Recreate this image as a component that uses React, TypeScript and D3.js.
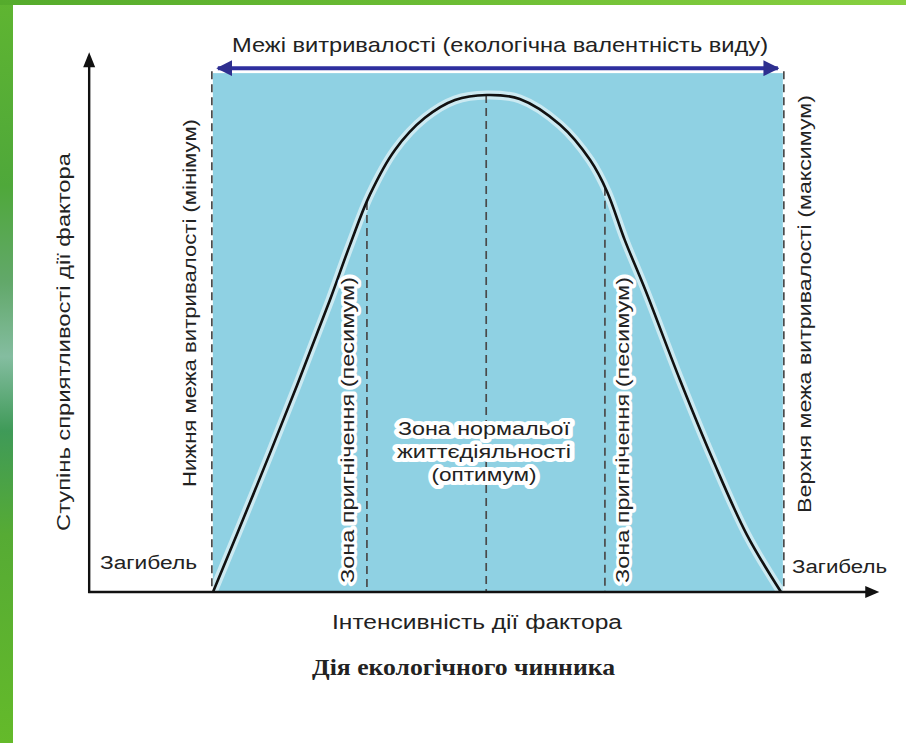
import React from 'react';
import * as d3 from 'd3';

// Response curve: factor intensity (0..100 between tolerance limits) vs. favourability (0..100)
const curveIntensity = [0, 7.4, 14.8, 20.6, 24.1, 27.6, 32.0, 37.3, 42.6, 48.2, 54.0, 61.1, 66.4, 69.4, 72.5, 76.1, 82.2, 88.0, 94.0, 100];
const curveFavour = [0, 20.5, 41.6, 58.8, 69.8, 79.9, 88.9, 95.4, 99.0, 100, 99.2, 94.0, 86.9, 80.5, 70.8, 60.8, 42.7, 26.6, 11.5, 0];

// Zone boundaries (dashed lines)
const toleranceLimits = [-0.2, 100.5];
const zoneBounds = [27.1, 48.1, 69.0];

// Axis extents in data units
const xAxisExtent = [-21.8, 117.3];
const yAxisTop = 108;
const bandTop = 104.4;
const arrowLevel = 105.4;

const titleText = 'Межі витривалості (екологічна валентність виду)';
const yAxisLabel = 'Ступінь сприятливості дії фактора';
const xAxisLabel = 'Інтенсивність дії фактора';
const caption = 'Дія екологічного чинника';
const deathLabel = 'Загибель';
const lowerLimitLabel = 'Нижня межа витривалості (мінімум)';
const upperLimitLabel = 'Верхня межа витривалості (максимум)';
const pessimumLabel = 'Зона пригнічення (песимум)';
const optimumLines = ['Зона нормальої', 'життєдіяльності', '(оптимум)'];

const W = 906;
const H = 743;
const FONT = '"Liberation Sans Narrow", "Arial Narrow", "Liberation Sans", Arial, sans-serif';

export default function App() {
  const x = d3.scaleLinear().domain([0, 100]).range([213, 781]);
  const y = d3.scaleLinear().domain([0, 100]).range([592, 95]);

  const pts: [number, number][] = curveIntensity.map((v, i) => [v, curveFavour[i]]);
  const line = d3
    .line<[number, number]>()
    .x((d) => x(d[0]))
    .y((d) => y(d[1]))
    .curve(d3.curveCatmullRom.alpha(0.5));
  const path = line(pts) || '';

  const interp = (v: number) => {
    const i = d3.bisectLeft(curveIntensity, v);
    if (i <= 0) return curveFavour[0];
    if (i >= curveIntensity.length) return curveFavour[curveFavour.length - 1];
    const a = curveIntensity[i - 1], b = curveIntensity[i];
    const t = (v - a) / (b - a);
    return curveFavour[i - 1] + t * (curveFavour[i] - curveFavour[i - 1]);
  };

  const x0 = x(xAxisExtent[0]);
  const xEnd = x(xAxisExtent[1]);
  const y0 = y(0);
  const yTop = y(yAxisTop);
  const bandL = x(toleranceLimits[0]) + 1;
  const bandR = x(toleranceLimits[1]) - 1;
  const arrowY = y(arrowLevel);

  const vText = (label: string, cx: number, cy: number, len: number, size = 18) => (
    <text
      transform={`translate(${cx},${cy}) rotate(-90)`}
      textAnchor="middle"
      dominantBaseline="central"
      fontFamily={FONT}
      fontSize={size}
      fill="#222"
      textLength={len}
      lengthAdjust="spacingAndGlyphs"
    >
      {label}
    </text>
  );

  return (
    <svg width={W} height={H} style={{ position: 'fixed', left: 0, top: 0 }} xmlns="http://www.w3.org/2000/svg">
      <defs>
        <linearGradient id="leftGreen" x1="0" y1="0" x2="0" y2="1">
          <stop offset="0" stopColor="#5fb531" />
          <stop offset="0.25" stopColor="#4fa83a" />
          <stop offset="0.38" stopColor="#62a86a" />
          <stop offset="0.48" stopColor="#84bda0" />
          <stop offset="0.58" stopColor="#3f9a58" />
          <stop offset="0.72" stopColor="#56ab34" />
          <stop offset="1" stopColor="#64ba2a" />
        </linearGradient>
        <linearGradient id="topGreen" x1="0" y1="0" x2="1" y2="0">
          <stop offset="0" stopColor="#55ab2c" />
          <stop offset="0.5" stopColor="#6cbd34" />
          <stop offset="1" stopColor="#88d040" />
        </linearGradient>
        <marker id="blueHead" viewBox="0 0 10 10" refX="9" refY="5" markerWidth="4" markerHeight="4" orient="auto-start-reverse">
          <path d="M0,0 L10,5 L0,10 z" fill="#2e2f8f" />
        </marker>
      </defs>
      <rect x={0} y={0} width={W} height={H} fill="#ffffff" />
      <rect x={0} y={0} width={13} height={H} fill="url(#leftGreen)" />
      <rect x={0} y={0} width={W} height={5} fill="url(#topGreen)" />

      {/* blue tolerance band */}
      <rect x={bandL} y={y(bandTop)} width={bandR - bandL} height={y0 - y(bandTop)} fill="#8fd1e3" />

      {/* halo along the curve */}
      <path d={path} fill="none" stroke="#ffffff" strokeOpacity={0.55} strokeWidth={9} />

      {/* tolerance limit dashed lines */}
      {toleranceLimits.map((v, i) => (
        <line key={'lim' + i} x1={x(v)} x2={x(v)} y1={y(bandTop) - 2} y2={y0} stroke="#4a4a4a" strokeWidth={1.7} strokeDasharray="8,5" />
      ))}
      {/* zone dashed lines */}
      {zoneBounds.map((v, i) => (
        <line key={'zb' + i} x1={x(v)} x2={x(v)} y1={y(interp(v))} y2={y0} stroke="#4a4a4a" strokeWidth={1.7} strokeDasharray="8,5" />
      ))}

      {/* response curve */}
      <path d={path} fill="none" stroke="#111" strokeWidth={2.6} />

      {/* tolerance arrow */}
      <line x1={x(toleranceLimits[0]) + 6} x2={x(toleranceLimits[1]) - 6} y1={arrowY} y2={arrowY} stroke="#2e2f9f" strokeWidth={4} markerStart="url(#blueHead)" markerEnd="url(#blueHead)" />

      {/* axes */}
      <line x1={x0} x2={x0} y1={y0 + 1} y2={yTop + 8} stroke="#111" strokeWidth={2.4} />
      <path d={`M${x0 - 6},${yTop + 12} L${x0},${yTop - 3} L${x0 + 6},${yTop + 12} z`} fill="#111" />
      <line x1={x0 - 1} x2={xEnd - 8} y1={y0} y2={y0} stroke="#111" strokeWidth={2.4} />
      <path d={`M${xEnd - 14},${y0 - 6} L${xEnd},${y0} L${xEnd - 14},${y0 + 6} z`} fill="#111" />

      {/* title */}
      <text x={500} y={44} textAnchor="middle" dominantBaseline="central" fontFamily={FONT} fontSize={21} fill="#222" textLength={536} lengthAdjust="spacingAndGlyphs">
        {titleText}
      </text>

      {vText(yAxisLabel, 64, 342, 378)}
      {vText(lowerLimitLabel, 190, 303, 368)}
      {vText(upperLimitLabel, 805, 304, 418)}
      <g stroke="#fff" strokeWidth={6} strokeLinejoin="round" style={{ paintOrder: 'stroke' }}>
        {vText(pessimumLabel, 348, 430, 306)}
        {vText(pessimumLabel, 623, 430, 306)}
      </g>

      {/* optimum label */}
      <g style={{ paintOrder: 'stroke' }} stroke="#fff" strokeWidth={8} strokeLinejoin="round">
        {optimumLines.map((t, i) => (
          <text key={t} x={484} y={428 + i * 23} textAnchor="middle" dominantBaseline="central" fontFamily={FONT} fontSize={19} fill="#222" textLength={[172, 174, 105][i]} lengthAdjust="spacingAndGlyphs">
            {t}
          </text>
        ))}
      </g>

      <text x={100} y={563} dominantBaseline="central" fontFamily={FONT} fontSize={18} fill="#222" textLength={97} lengthAdjust="spacingAndGlyphs">
        {deathLabel}
      </text>
      <text x={792} y={567} dominantBaseline="central" fontFamily={FONT} fontSize={18} fill="#222" textLength={95} lengthAdjust="spacingAndGlyphs">
        {deathLabel}
      </text>

      <text x={332} y={622} dominantBaseline="central" fontFamily={FONT} fontSize={20} fill="#222" textLength={290} lengthAdjust="spacingAndGlyphs">
        {xAxisLabel}
      </text>
      <text x={312} y={667} dominantBaseline="central" fontFamily='"Liberation Serif", "Times New Roman", serif' fontWeight="bold" fontSize={24} fill="#222" textLength={303} lengthAdjust="spacingAndGlyphs">
        {caption}
      </text>
    </svg>
  );
}
